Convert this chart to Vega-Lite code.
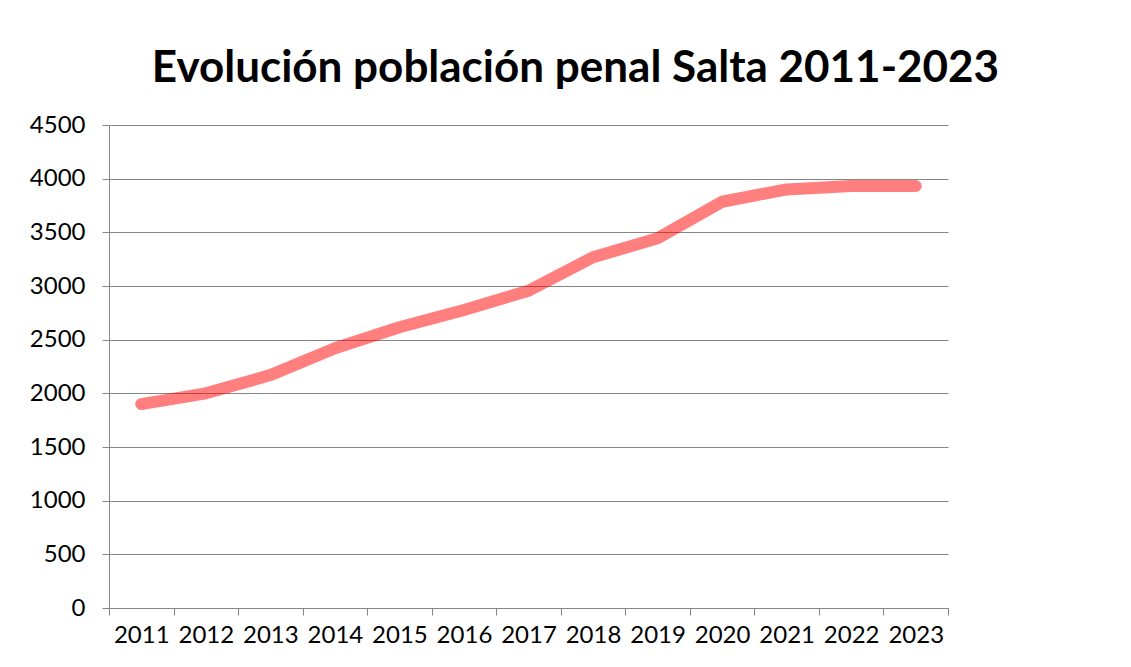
{
  "$schema": "https://vega.github.io/schema/vega-lite/v6.json",
  "width": 839,
  "height": 483,
  "autosize": "none",
  "padding": {"left": 109, "top": 125, "right": 183, "bottom": 59},
  "background": "white",
  "title": {
    "text": "Evolución población penal Salta 2011-2023",
    "font": "Lato",
    "fontWeight": "bold",
    "fontSize": 44,
    "color": "black",
    "anchor": "middle",
    "frame": "group",
    "dx": 47,
    "dy": 56,
    "baseline": "alphabetic",
    "offset": 43
  },
  "data": {
    "values": [
      {"year": "2011", "value": 1900},
      {"year": "2012", "value": 2000},
      {"year": "2013", "value": 2170},
      {"year": "2014", "value": 2420},
      {"year": "2015", "value": 2615},
      {"year": "2016", "value": 2776},
      {"year": "2017", "value": 2956},
      {"year": "2018", "value": 3268},
      {"year": "2019", "value": 3444},
      {"year": "2020", "value": 3785},
      {"year": "2021", "value": 3900},
      {"year": "2022", "value": 3932},
      {"year": "2023", "value": 3932}
    ]
  },
  "mark": {"type": "line", "color": "#ff0000", "opacity": 0.5, "strokeWidth": 12, "strokeCap": "round", "strokeJoin": "round"},
  "encoding": {
    "x": {
      "field": "year",
      "type": "ordinal",
      "bandPosition": 0.5,
      "scale": {"type": "band", "paddingInner": 0, "paddingOuter": 0},
      "axis": {
        "title": null,
        "labelAngle": 0,
        "labelFont": "Lato",
        "labelFontSize": 24,
        "labelColor": "black",
        "labelPadding": 8,
        "tickBand": "extent",
        "tickSize": 7,
        "tickColor": "#868686",
        "domainColor": "#868686",
        "grid": false
      }
    },
    "y": {
      "field": "value",
      "type": "quantitative",
      "scale": {"domain": [0, 4500], "nice": false},
      "axis": {
        "title": null,
        "format": "d",
        "values": [0, 500, 1000, 1500, 2000, 2500, 3000, 3500, 4000, 4500],
        "labelFont": "Lato",
        "labelFontSize": 24,
        "labelColor": "black",
        "labelPadding": 17,
        "tickSize": 7,
        "tickColor": "#868686",
        "domainColor": "#868686",
        "gridColor": "#868686",
        "grid": true
      }
    }
  },
  "config": {"view": {"stroke": null}}
}
